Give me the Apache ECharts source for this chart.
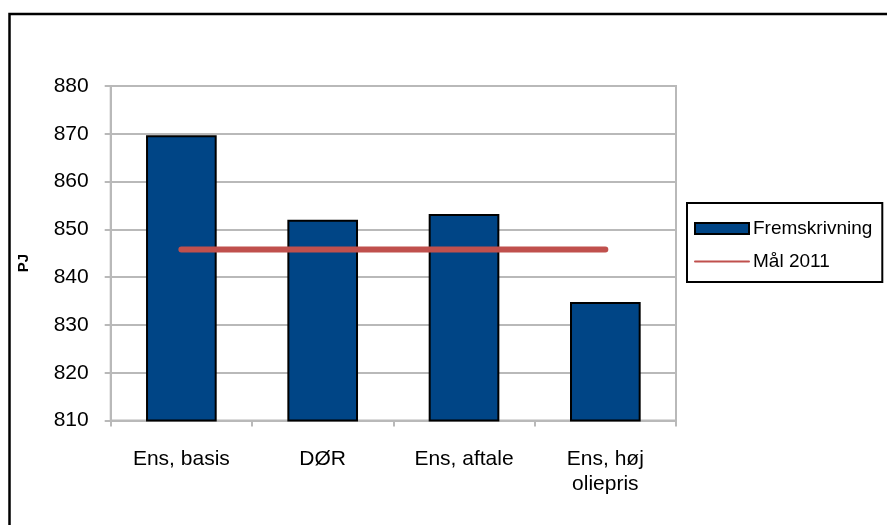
<!DOCTYPE html>
<html>
<head>
<meta charset="utf-8">
<script src="https://cdn.jsdelivr.net/npm/echarts@6/dist/echarts.min.js"></script>
<style>
  html, body { margin: 0; padding: 0; background: #fff; }
  #chart { width: 887px; height: 525px; }
</style>
</head>
<body>
<div id="chart"></div>
<script>
// Scenario categories on the x axis
const categories = ['Ens, basis', 'DØR', 'Ens, aftale', 'Ens, høj\noliepris'];
// Projected energy consumption (PJ) per scenario
const fremskrivning = [869.7, 852.0, 853.2, 834.8];
// 2011 target level, same for every scenario
const maal2011 = [845.8, 845.8, 845.8, 845.8];
// Value axis range and unit
const yMin = 810, yMax = 880, yStep = 10;
const yUnit = 'PJ';

const FONT = 'Liberation Sans, Arial, sans-serif';
const GRID_GREY = '#b9b9b9';

const chart = echarts.init(document.getElementById('chart'), null, { renderer: 'canvas' });

chart.setOption({
  backgroundColor: '#ffffff',
  animation: false,
  textStyle: { fontFamily: FONT, color: '#000' },
  graphic: [
    {
      // outer chart frame
      type: 'rect',
      shape: { x: 9.5, y: 14, width: 900, height: 540 },
      style: { fill: 'none', stroke: '#000', lineWidth: 2.5 },
      silent: true
    },
    {
      // value axis unit, rotated
      type: 'text',
      x: 24,
      y: 263,
      rotation: Math.PI / 2,
      style: {
        text: yUnit,
        fontFamily: FONT,
        fontSize: 15,
        fontWeight: 'bold',
        fill: '#000',
        align: 'center',
        verticalAlign: 'middle'
      },
      silent: true
    }
  ],
  grid: {
    left: 110.7,
    right: 211,
    top: 86,
    bottom: 104.5,
    show: true,
    borderColor: GRID_GREY,
    borderWidth: 2,
    backgroundColor: 'transparent'
  },
  legend: {
    orient: 'vertical',
    left: 687,
    top: 203,
    padding: [16, 10, 11, 7],
    itemGap: 14,
    itemWidth: 54,
    itemHeight: 11,
    borderColor: '#000',
    borderWidth: 2,
    textStyle: { fontFamily: FONT, fontSize: 19, color: '#000', padding: [0, 0, 0, -1] },
    data: [
      { name: 'Fremskrivning', icon: 'rect' },
      { name: 'Mål 2011', lineStyle: { width: 2 }, itemStyle: { opacity: 0 } }
    ]
  },
  xAxis: {
    type: 'category',
    data: categories,
    boundaryGap: true,
    axisLine: { lineStyle: { color: GRID_GREY, width: 2 } },
    axisTick: { show: true, length: 6, lineStyle: { color: GRID_GREY, width: 2 } },
    axisLabel: {
      fontFamily: FONT,
      fontSize: 21,
      color: '#000',
      margin: 26,
      lineHeight: 25,
      interval: 0
    }
  },
  yAxis: {
    type: 'value',
    min: yMin,
    max: yMax,
    interval: yStep,
    axisLine: { show: true, lineStyle: { color: GRID_GREY, width: 2 } },
    axisTick: { show: true, length: 6, lineStyle: { color: GRID_GREY, width: 2 } },
    axisLabel: { fontFamily: FONT, fontSize: 21, color: '#000', margin: 22 },
    splitLine: { show: true, lineStyle: { color: GRID_GREY, width: 2 } }
  },
  series: [
    {
      name: 'Fremskrivning',
      type: 'bar',
      data: fremskrivning,
      barWidth: '50%',
      itemStyle: { color: '#004586', borderColor: '#000', borderWidth: 2 },
      z: 2
    },
    {
      name: 'Mål 2011',
      type: 'line',
      data: maal2011,
      symbol: 'none',
      lineStyle: { color: '#c0504d', width: 6, cap: 'round' },
      itemStyle: { color: '#c0504d' },
      z: 3
    }
  ]
});
</script>
</body>
</html>
